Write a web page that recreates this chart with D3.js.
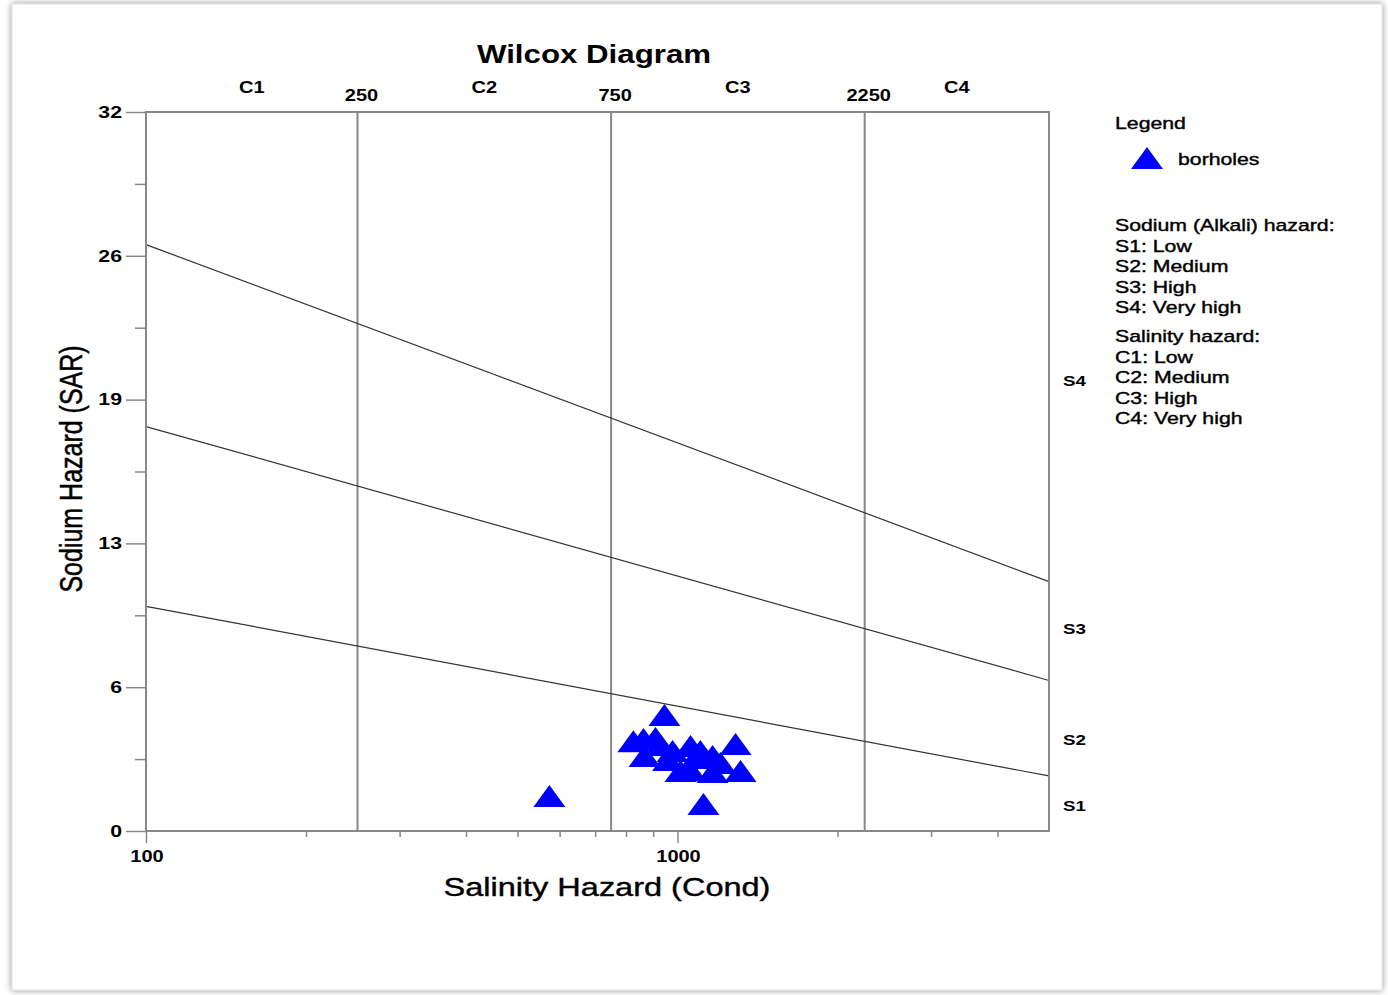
<!DOCTYPE html>
<html lang="en">
<head>
<meta charset="UTF-8">
<title>Wilcox Diagram</title>
<script src="https://d3js.org/d3.v7.min.js"></script>
<style>
  body { margin: 0; background: #fff; }
  svg text { font-family: "Liberation Sans", Arial, sans-serif; fill: #000; }
</style>
</head>
<body>
<svg width="1388" height="995"></svg>
<script>
// borehole samples: conductivity (uS/cm) and SAR
const sampleCond = [574, 1119, 945, 1286, 826, 863, 909, 867, 1013, 1104, 1164, 1314, 1058, 979, 1205, 1164, 960, 1082, 1058, 929];
const sampleSAR  = [1.56, 1.20, 5.16, 3.87, 4.00, 4.09, 4.14, 3.34, 2.67, 3.56, 3.34, 2.67, 3.78, 3.56, 3.03, 2.63, 3.16, 3.25, 2.70, 3.83];

// sodium hazard boundary lines: SAR at cond 100 and at cond 5000
const boundaryAt100  = [10.0, 18.0, 26.1];
const boundaryAt5000 = [2.45, 6.7, 11.1];

// salinity class breaks and labels
const classBreaks = [250, 750, 2250];
const classLabels = ["C1", "C2", "C3", "C4"];
const sodiumLabels = ["S1", "S2", "S3", "S4"];
const sodiumLabelSAR = [1.1, 4.05, 9.0, 20.0];

const yMajorTicks = [0, 6.4, 12.8, 19.2, 25.6, 32];
const yMinorTicks = [3.2, 9.6, 16, 22.4, 28.8];
const xMajorTicks = [100, 1000];
const xMinorTicks = [200, 300, 400, 500, 600, 700, 800, 900, 2000, 3000, 4000];

const legendLines1 = ["Sodium (Alkali) hazard:", "S1: Low", "S2: Medium", "S3: High", "S4: Very high"];
const legendLines2 = ["Salinity hazard:", "C1: Low", "C2: Medium", "C3: High", "C4: Very high"];

const SX = 1.25; // the picture is stretched sideways
const plot = { left: 146, right: 1049, top: 112, bottom: 831 };

const svg = d3.select("svg");

// outer frame with soft shadow
const defs = svg.append("defs");
const f = defs.append("filter").attr("id", "shadow").attr("x", "-5%").attr("y", "-5%").attr("width", "110%").attr("height", "110%");
f.append("feDropShadow").attr("dx", 0).attr("dy", 0).attr("stdDeviation", 3).attr("flood-color", "#000").attr("flood-opacity", 0.45);
svg.append("rect")
    .attr("x", 12).attr("y", 4).attr("width", 1370).attr("height", 986)
    .attr("fill", "#fff").attr("stroke", "#ddd")
    .attr("filter", "url(#shadow)");

const x = d3.scaleLog().domain([100, 5000]).range([plot.left, plot.right]);
const y = d3.scaleLinear().domain([0, 32]).range([plot.bottom, plot.top]);

function label(txt, px, py, size, opts = {}) {
    const g = svg.append("g")
        .attr("transform", `translate(${px},${py}) scale(${SX},1)` + (opts.rotate ? ` rotate(${opts.rotate})` : ""));
    return g.append("text")
        .attr("text-anchor", opts.anchor || "start")
        .attr("dominant-baseline", opts.baseline || "auto")
        .style("font-size", size + "px")
        .style("font-weight", opts.bold ? "bold" : "normal")
        .style("stroke", opts.heavy ? "#000" : "none")
        .style("stroke-width", opts.heavy || 0)
        .text(txt);
}

// salinity class verticals
svg.append("g").selectAll("line")
    .data(classBreaks).join("line")
    .attr("x1", d => x(d)).attr("x2", d => x(d))
    .attr("y1", plot.top).attr("y2", plot.bottom)
    .attr("stroke", "#888").attr("stroke-width", 2);

// sodium hazard boundaries
svg.append("g").selectAll("line")
    .data(d3.range(boundaryAt100.length)).join("line")
    .attr("x1", x(100)).attr("y1", i => y(boundaryAt100[i]))
    .attr("x2", x(5000)).attr("y2", i => y(boundaryAt5000[i]))
    .attr("stroke", "#333").attr("stroke-width", 1.2);

// plot frame
svg.append("rect")
    .attr("x", plot.left).attr("y", plot.top)
    .attr("width", plot.right - plot.left).attr("height", plot.bottom - plot.top)
    .attr("fill", "none").attr("stroke", "#888").attr("stroke-width", 2);

// left axis
svg.append("g").attr("transform", `translate(${plot.left},0)`)
    .call(d3.axisLeft(y).tickValues(yMajorTicks).tickSize(20).tickFormat(""))
    .call(g => g.select(".domain").remove())
    .call(g => g.selectAll("line").attr("stroke", "#888").attr("stroke-width", 1.5));
svg.append("g").attr("transform", `translate(${plot.left},0)`)
    .call(d3.axisLeft(y).tickValues(yMinorTicks).tickSize(11).tickFormat(""))
    .call(g => g.select(".domain").remove())
    .call(g => g.selectAll("line").attr("stroke", "#888").attr("stroke-width", 1.5));
yMajorTicks.forEach(v => label(d3.format(".0f")(v), 122, y(v), 17, { anchor: "end", baseline: "central", bold: true }));

// bottom axis
svg.append("g").attr("transform", `translate(0,${plot.bottom})`)
    .call(d3.axisBottom(x).tickValues(xMajorTicks).tickSize(12).tickFormat(""))
    .call(g => g.select(".domain").remove())
    .call(g => g.selectAll("line").attr("stroke", "#888").attr("stroke-width", 1.5));
svg.append("g").attr("transform", `translate(0,${plot.bottom})`)
    .call(d3.axisBottom(x).tickValues(xMinorTicks).tickSize(6).tickFormat(""))
    .call(g => g.select(".domain").remove())
    .call(g => g.selectAll("line").attr("stroke", "#888").attr("stroke-width", 1.5));
xMajorTicks.forEach(v => label(String(v), x(v) + 1, 862, 16, { anchor: "middle", bold: true }));

// top class labels
const classEdges = [100, ...classBreaks, 5000];
classLabels.forEach((c, i) => label(c, x(Math.sqrt(classEdges[i] * classEdges[i + 1])), 93, 16, { anchor: "middle", bold: true }));
classBreaks.forEach(v => label(String(v), x(v) + 4, 101, 16, { anchor: "middle", bold: true }));

// right sodium labels
sodiumLabels.forEach((s, i) => label(s, 1063, y(sodiumLabelSAR[i]), 15, { baseline: "central", bold: true }));

// titles
label("Wilcox Diagram", 594, 63, 25, { anchor: "middle", bold: true });
label("Salinity Hazard (Cond)", 607, 896, 26, { anchor: "middle", heavy: 0.4 });
label("Sodium Hazard (SAR)", 82, 469, 25, { anchor: "middle", rotate: -90, heavy: 0.4 });

// samples as triangles
const triW = 32, triH = 22;
const tri = (cx, cy) => `M${cx},${cy - triH / 2}L${cx + triW / 2},${cy + triH / 2}L${cx - triW / 2},${cy + triH / 2}Z`;
svg.append("g").selectAll("path")
    .data(sampleCond.map((c, i) => ({ c, s: sampleSAR[i] }))).join("path")
    .attr("d", d => tri(x(d.c), y(d.s)))
    .attr("fill", "#0000ff");

// legend
label("Legend", 1115, 129, 17, { heavy: 0.4 });
svg.append("path").attr("d", tri(1147, 158)).attr("fill", "#0000ff");
label("borholes", 1178, 165, 17, { heavy: 0.4 });
legendLines1.forEach((t, i) => label(t, 1115, 231 + i * 20.5, 17, { heavy: 0.4 }));
legendLines2.forEach((t, i) => label(t, 1115, 342 + i * 20.5, 17, { heavy: 0.4 }));
</script>
</body>
</html>
